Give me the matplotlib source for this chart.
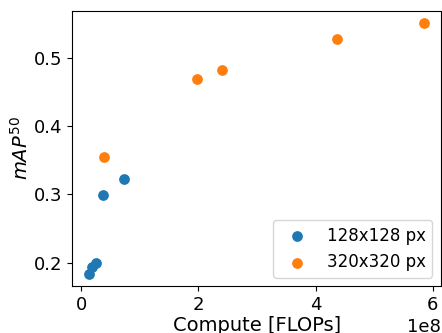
import matplotlib
matplotlib.use("Agg")
import matplotlib.pyplot as plt

# compute (FLOPs) and mAP50 for both input resolutions
flops_128 = [0.136e8, 0.19e8, 0.25e8, 0.37e8, 0.73e8]
map_128 = [0.184, 0.194, 0.199, 0.299, 0.323]

flops_320 = [0.39e8, 1.97e8, 2.41e8, 4.36e8, 5.85e8]
map_320 = [0.355, 0.469, 0.483, 0.528, 0.551]

plt.rcParams["font.size"] = 13

fig, ax = plt.subplots(figsize=(4.42, 3.33), dpi=100)
ax.scatter(flops_128, map_128, s=45, label="128x128 px")
ax.scatter(flops_320, map_320, s=45, label="320x320 px")
ax.set_xlabel("Compute [FLOPs]", fontsize=14, labelpad=1.5)
ax.set_ylabel("$mAP^{50}$", fontsize=14, labelpad=1.5)
ax.legend(loc="lower right", fontsize=12)
fig.subplots_adjust(left=0.164, right=0.997, top=0.968, bottom=0.141)
fig.savefig("out.png", dpi=100)
